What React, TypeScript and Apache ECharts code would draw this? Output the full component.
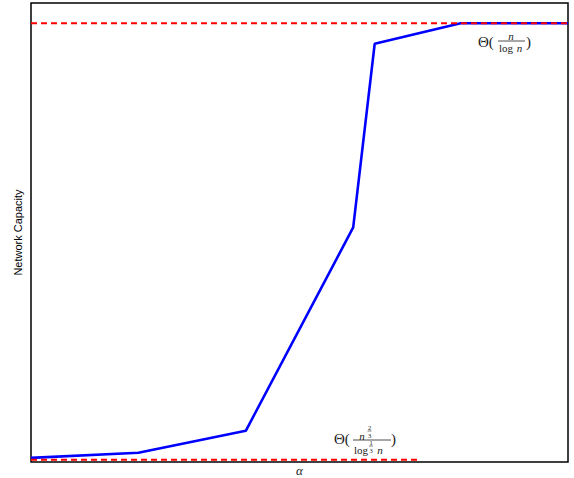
import React, { useEffect, useRef } from "react";
import * as echarts from "echarts";

const alphaValues = [0, 1, 2, 3, 3.2, 4, 5];
const capacityValues = [0.9, 2.0, 6.8, 51.1, 91.1, 95.6, 95.6];
const upperBoundX = [0, 5];
const upperBoundY = [95.6, 95.6];
const lowerBoundX = [0, 3.6];
const lowerBoundY = [0.5, 0.5];

const SERIF = "'Liberation Serif', 'DejaVu Serif', serif";

function txt(x: number, y: number, text: string, size: number, opts: any = {}) {
  return {
    type: "text",
    x,
    y,
    silent: true,
    style: {
      text,
      fontFamily: SERIF,
      fontSize: size,
      fontStyle: opts.italic ? "italic" : "normal",
      fill: "#222",
      textAlign: opts.align || "center",
      textVerticalAlign: "middle",
    },
  };
}

function hline(x1: number, x2: number, y: number, w = 0.8) {
  return {
    type: "line",
    silent: true,
    shape: { x1, y1: y, x2, y2: y },
    style: { stroke: "#222", lineWidth: w },
  };
}

export default function App() {
  const ref = useRef<HTMLDivElement>(null);
  useEffect(() => {
    if (!ref.current) return;
    const chart = echarts.init(ref.current, undefined, { renderer: "svg" });
    chart.setOption({
      animation: false,
      backgroundColor: "#fff",
      grid: {
        left: 31,
        top: 3,
        right: 6,
        bottom: 16,
        outerBoundsMode: "none",
        containLabel: false,
        show: true,
        borderColor: "#000",
        borderWidth: 1.5,
        backgroundColor: "transparent",
      },
      xAxis: {
        type: "value",
        min: 0,
        max: 5,
        axisLine: { show: false },
        axisTick: { show: false },
        axisLabel: { show: false },
        splitLine: { show: false },
        name: "α",
        nameLocation: "middle",
        nameGap: 2,
        nameTextStyle: { fontFamily: SERIF, fontSize: 13, fontStyle: "italic", color: "#222" },
      },
      yAxis: {
        type: "value",
        min: 0,
        max: 100,
        axisLine: { show: false },
        axisTick: { show: false },
        axisLabel: { show: false },
        splitLine: { show: false },
        name: "Network Capacity",
        nameLocation: "middle",
        nameGap: 8,
        nameTextStyle: { fontFamily: "'Liberation Sans', Arial, sans-serif", fontSize: 11, color: "#000" },
      },
      series: [
        {
          type: "line",
          data: alphaValues.map((x, i) => [x, capacityValues[i]]),
          showSymbol: false,
          lineStyle: { color: "#0000ff", width: 2.6 },
          z: 2,
        },
        {
          type: "line",
          data: upperBoundX.map((x, i) => [x, upperBoundY[i]]),
          showSymbol: false,
          lineStyle: { color: "#ff0000", width: 2, type: [6, 4] },
          z: 3,
        },
        {
          type: "line",
          data: lowerBoundX.map((x, i) => [x, lowerBoundY[i]]),
          showSymbol: false,
          lineStyle: { color: "#ff0000", width: 2, type: [6, 4] },
          z: 3,
        },
      ],
      graphic: [
        // Θ(n / log n)
        txt(478, 42, "Θ(", 15, { align: "left" }),
        txt(511, 35.5, "n", 11, { italic: true }),
        hline(498, 525, 41),
        txt(506, 47.5, "log", 11),
        txt(519.5, 47.5, "n", 11, { italic: true }),
        txt(526, 42, ")", 15, { align: "left" }),
        // Θ(n^{2/3} / log^{1/3} n)
        txt(334, 439, "Θ(", 15, { align: "left" }),
        txt(362, 436, "n", 11, { italic: true }),
        txt(369.5, 427, "2", 6.5),
        hline(367.5, 371.5, 431, 0.6),
        txt(369.5, 435, "3", 6.5),
        hline(353, 391, 440),
        txt(361, 450, "log", 11),
        txt(371, 442, "1", 6.5),
        hline(369, 373, 446, 0.6),
        txt(371, 450, "3", 6.5),
        txt(380, 450, "n", 11, { italic: true }),
        txt(391, 439, ")", 15, { align: "left" }),
      ],
    });
    return () => chart.dispose();
  }, []);
  return (
    <div
      ref={ref}
      style={{ position: "fixed", left: 0, top: 0, width: 574, height: 478, background: "#fff" }}
    />
  );
}
